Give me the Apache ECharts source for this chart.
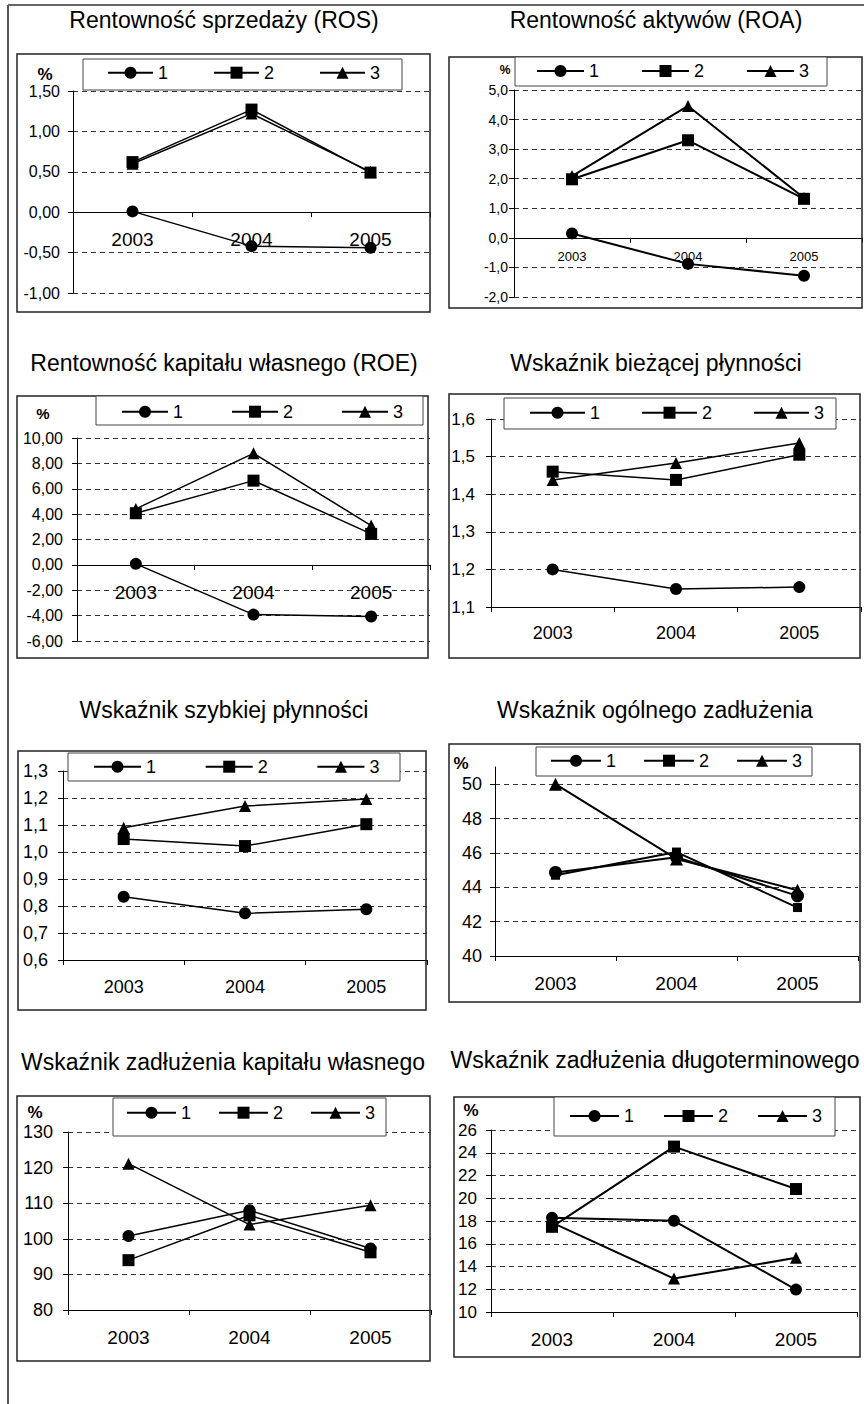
<!DOCTYPE html>
<html>
<head>
<meta charset="utf-8">
<script src="https://cdn.jsdelivr.net/npm/echarts@6/dist/echarts.min.js"></script>
<style>
  html, body { margin: 0; padding: 0; background: #fff; }
  #chart { width: 864px; height: 1404px; }
</style>
</head>
<body>
<div id="chart"></div>
<script>
// Categories and series names shared by all eight panels
const years = ['2003', '2004', '2005'];
const seriesNames = ['1', '2', '3'];

const chartTitles = [
  'Rentowność sprzedaży (ROS)',
  'Rentowność aktywów (ROA)',
  'Rentowność kapitału własnego (ROE)',
  'Wskaźnik bieżącej płynności',
  'Wskaźnik szybkiej płynności',
  'Wskaźnik ogólnego zadłużenia',
  'Wskaźnik zadłużenia kapitału własnego',
  'Wskaźnik zadłużenia długoterminowego'
];

// Rentowność sprzedaży (ROS), %
const rosS1 = [0.01, -0.42, -0.44];
const rosS2 = [0.62, 1.27, 0.49];
const rosS3 = [0.60, 1.22, 0.50];

// Rentowność aktywów (ROA), %
const roaS1 = [0.15, -0.88, -1.28];
const roaS2 = [1.98, 3.30, 1.32];
const roaS3 = [2.09, 4.46, 1.35];

// Rentowność kapitału własnego (ROE), %
const roeS1 = [0.08, -3.92, -4.07];
const roeS2 = [4.07, 6.64, 2.44];
const roeS3 = [4.41, 8.79, 3.10];

// Wskaźnik bieżącej płynności
const currentS1 = [1.200, 1.148, 1.153];
const currentS2 = [1.460, 1.438, 1.505];
const currentS3 = [1.438, 1.483, 1.536];

// Wskaźnik szybkiej płynności
const quickS1 = [0.834, 0.773, 0.788];
const quickS2 = [1.048, 1.022, 1.103];
const quickS3 = [1.090, 1.170, 1.196];

// Wskaźnik ogólnego zadłużenia, %
const debtS1 = [44.86, 45.75, 43.50];
const debtS2 = [44.70, 46.05, 42.82];
const debtS3 = [50.00, 45.65, 43.83];

// Wskaźnik zadłużenia kapitału własnego, %
const equityDebtS1 = [100.8, 108.0, 97.3];
const equityDebtS2 = [94.0, 106.6, 96.2];
const equityDebtS3 = [121.1, 104.0, 109.4];

// Wskaźnik zadłużenia długoterminowego, %
const longDebtS1 = [18.28, 18.02, 11.97];
const longDebtS2 = [17.49, 24.54, 20.81];
const longDebtS3 = [17.85, 12.94, 14.76];

// Value-axis scales (tick labels) per panel
const yMins = [-1, -2, -6, 1.1, 0.6, 40, 80, 10];
const yMaxs = [1.5, 5, 10, 1.6, 1.3, 51, 130, 26];
const yIntervals = [0.5, 1, 2, 0.1, 0.1, 2, 10, 2];
const yDecimals = [2, 1, 2, 1, 1, 0, 0, 0];
const debtTicks = [40, 42, 44, 46, 48, 50];

const panelValues = [
  [rosS1, rosS2, rosS3],
  [roaS1, roaS2, roaS3],
  [roeS1, roeS2, roeS3],
  [currentS1, currentS2, currentS3],
  [quickS1, quickS2, quickS3],
  [debtS1, debtS2, debtS3],
  [equityDebtS1, equityDebtS2, equityDebtS3],
  [longDebtS1, longDebtS2, longDebtS3]
];

// Layout of each panel: plot area, outer frame, legend box, legend, "%" mark, title
const FONT = '"Liberation Sans", Arial, sans-serif';
const panels = [
  { grid: [73, 91, 357, 202], frame: [17, 54, 413, 258], lbox: [83, 59, 319, 31],
    leg: [107, 72.7, 45, 105], pct: [45, 74, 17], title: [224, 20],
    yFont: 16, yMargin: 13, xFont: 19, xMargin: 18, lw: 1.5, sym: [12, 12, 12] },
  { grid: [514, 90, 348, 207], frame: [449, 57, 413, 251], lbox: [515, 57, 312, 29],
    leg: [536, 71, 47, 104], pct: [505, 70, 12], title: [656, 20],
    yFont: 14, yMargin: 6, xFont: 13, xMargin: 12, lw: 2, sym: [12, 12, 12] },
  { grid: [77, 438, 353, 203], frame: [17, 396, 411, 262], lbox: [96, 396, 327, 29],
    leg: [121, 411.7, 46, 109], pct: [43, 413, 15], title: [224, 363],
    yFont: 16, yMargin: 14, xFont: 19, xMargin: 18, lw: 1.5, sym: [12, 12, 12] },
  { grid: [491, 419, 370, 188], frame: [449, 394, 411, 264], lbox: [504, 398, 332, 31],
    leg: [529, 412.7, 55, 111], pct: null, title: [656, 363],
    yFont: 17, yMargin: 16, xFont: 18, xMargin: 17, lw: 1.5, sym: [12, 12, 12] },
  { grid: [63, 771, 364, 189], frame: [18, 751, 408, 259], lbox: [68, 753, 332, 28],
    leg: [93, 766.7, 47, 110.7], pct: null, title: [224, 710],
    yFont: 18, yMargin: 15, xFont: 18, xMargin: 18, lw: 1.5, sym: [12, 12, 12] },
  { grid: [495, 767, 363, 189], frame: [449, 744, 411, 258], lbox: [536, 747, 276, 29],
    leg: [550, 760.7, 50, 92], pct: [461, 763, 17], title: [655, 710],
    yFont: 18, yMargin: 13, xFont: 19, xMargin: 18, lw: 2, sym: [13, 9, 13] },
  { grid: [68, 1132, 363, 178], frame: [17, 1096, 413, 265], lbox: [113, 1098, 273, 38],
    leg: [126, 1112.7, 49, 91], pct: [35, 1112, 17], title: [223, 1062],
    yFont: 18, yMargin: 15, xFont: 19, xMargin: 18, lw: 1.5, sym: [12, 12, 12] },
  { grid: [491, 1130, 366, 182], frame: [454, 1097, 406, 260], lbox: [554, 1097, 281, 39],
    leg: [569, 1116, 49, 93], pct: [471, 1110, 17], title: [655, 1060],
    yFont: 17, yMargin: 14, xFont: 19, xMargin: 18, lw: 2, sym: [12, 12, 12] }
];

const symbols = ['circle', 'rect', 'triangle'];

const grids = [], xAxes = [], yAxes = [], series = [], legends = [], graphics = [];

// Page rules along the top and left edge
graphics.push({ type: 'line', shape: { x1: 8, y1: 5, x2: 864, y2: 5 },
  style: { stroke: '#666', lineWidth: 2 }, z: 1 });
graphics.push({ type: 'line', shape: { x1: 8, y1: 5, x2: 8, y2: 1404 },
  style: { stroke: '#555', lineWidth: 2 }, z: 1 });

panels.forEach((p, i) => {
  const [gl, gt, gw, gh] = p.grid;
  grids.push({ left: gl, top: gt, width: gw, height: gh, containLabel: false });

  // Category axis sits on the zero line when the value range spans zero
  const spansZero = yMins[i] < 0 && yMaxs[i] > 0;
  const zeroOffset = spansZero ? -(0 - yMins[i]) / (yMaxs[i] - yMins[i]) * gh : 0;

  xAxes.push({
    type: 'category', gridIndex: i, data: years, boundaryGap: true,
    position: 'bottom', offset: zeroOffset,
    axisLine: { show: true, onZero: false, lineStyle: { color: '#000', width: 1 } },
    axisTick: { show: true, length: 5, alignWithLabel: false, lineStyle: { color: '#000' } },
    axisLabel: { fontSize: p.xFont, color: '#000', fontFamily: FONT, margin: p.xMargin },
    splitLine: { show: false }
  });

  const dec = yDecimals[i];
  const yAxis = {
    type: 'value', gridIndex: i, min: yMins[i], max: yMaxs[i], interval: yIntervals[i],
    axisLine: { show: true, onZero: false, lineStyle: { color: '#000', width: 1 } },
    axisTick: { show: true, length: 5, lineStyle: { color: '#000' } },
    axisLabel: {
      fontSize: p.yFont, color: '#000', fontFamily: FONT, margin: p.yMargin,
      formatter: v => v.toFixed(dec).replace('.', ',')
    },
    splitLine: { show: true, lineStyle: { color: '#333', width: 1, type: [5, 4] } }
  };
  if (i === 5) {
    yAxis.axisLabel.customValues = debtTicks;
    yAxis.axisTick.customValues = debtTicks;
  }
  yAxes.push(yAxis);

  panelValues[i].forEach((vals, s) => {
    series.push({
      type: 'line', name: seriesNames[s], xAxisIndex: i, yAxisIndex: i,
      data: vals, symbol: symbols[s], symbolSize: p.sym[s], showAllSymbol: true,
      lineStyle: { color: '#000', width: p.lw },
      itemStyle: { color: '#000' },
      emphasis: { disabled: true }, z: 3
    });
  });

  const [lx, lcy, iw, spacing] = p.leg;
  legends.push({
    data: seriesNames, left: lx, top: lcy - 9, orient: 'horizontal', padding: 0,
    itemWidth: iw, itemHeight: 15, itemGap: spacing - iw - 15,
    selectedMode: false, z: 8,
    textStyle: { fontSize: 18, color: '#000', fontFamily: FONT }
  });

  const [fx, fy, fw, fh] = p.frame;
  graphics.push({ type: 'rect', shape: { x: fx, y: fy, width: fw, height: fh },
    style: { fill: 'none', stroke: '#222', lineWidth: 1.5 }, z: 6 });
  const [bx, by, bw, bh] = p.lbox;
  graphics.push({ type: 'rect', shape: { x: bx, y: by, width: bw, height: bh },
    style: { fill: '#fff', stroke: '#444', lineWidth: 1 }, z: 7 });

  if (p.pct) {
    graphics.push({ type: 'text', x: p.pct[0], y: p.pct[1], z: 7,
      style: { text: '%', font: 'bold ' + p.pct[2] + 'px ' + FONT, fill: '#000',
        align: 'center', verticalAlign: 'middle', textAlign: 'center', textVerticalAlign: 'middle' } });
  }
  graphics.push({ type: 'text', x: p.title[0], y: p.title[1], z: 7,
    style: { text: chartTitles[i], font: '23px ' + FONT, fill: '#000',
      align: 'center', verticalAlign: 'middle', textAlign: 'center', textVerticalAlign: 'middle' } });
});

const chart = echarts.init(document.getElementById('chart'), null, { renderer: 'svg' });
chart.setOption({
  backgroundColor: '#fff',
  animation: false,
  grid: grids,
  xAxis: xAxes,
  yAxis: yAxes,
  legend: legends,
  series: series,
  graphic: { elements: graphics }
});
</script>
</body>
</html>
